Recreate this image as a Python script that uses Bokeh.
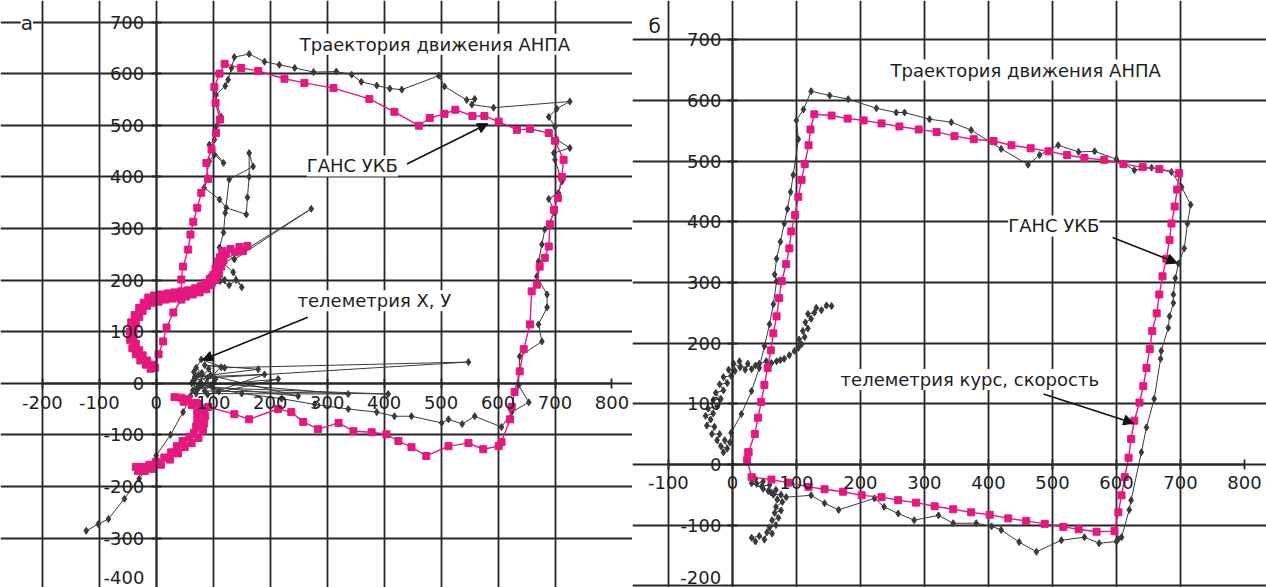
from bokeh.plotting import figure
from bokeh.layouts import row
from bokeh.models import FixedTicker, Label, Arrow, NormalHead
from bokeh.embed import file_html
from bokeh.resources import INLINE

# ---------------- data ----------------
a_xticks = [-200, -100, 0, 100, 200, 300, 400, 500, 600, 700, 800]
a_yticks = [-300, -200, -100, 0, 100, 200, 300, 400, 500, 600, 700]
a_bottom_tick = -400          # only its upper part shows at the lower edge
a_xgrid = [-200, -100, 0, 100, 200, 300, 400, 500, 600, 700]
a_ygrid = [-400, -300, -200, -100, 0, 100, 200, 300, 400, 500, 600, 700]

# Panel a, "ГАНС УКБ" trajectory (pink squares)
a_gans = [
    (160, 266), (152, 256), (146, 264), (138, 254), (130, 260), (122, 250), (116, 256),
    (112, 244), (118, 238), (108, 236), (114, 226), (104, 222), (110, 212), (100, 210),
    (104, 200), (94, 202), (96, 190), (86, 194), (88, 182), (78, 188), (76, 176),
    (68, 184), (64, 172), (56, 180), (52, 168), (44, 178), (40, 166), (32, 176),
    (28, 164), (20, 174), (16, 162), (8, 172), (4, 158), (-4, 170), (-8, 156),
    (-14, 166), (-16, 150), (-22, 156), (-24, 140), (-30, 146), (-30, 128), (-38, 132),
    (-36, 116), (-44, 118), (-40, 104), (-46, 100), (-40, 90), (-46, 84), (-36, 76),
    (-42, 68), (-30, 64), (-36, 56), (-24, 54), (-28, 44), (-16, 44), (-18, 36),
    (-8, 36), (-10, 28), (-2, 30),
    (4, 56), (12, 81), (18, 108), (30, 137), (44, 162), (44, 201), (47, 226), (56, 259),
    (60, 288), (65, 313), (72, 340), (79, 369), (91, 396), (88, 427), (97, 453),
    (105, 485), (112, 511), (104, 543), (102, 574), (111, 600), (120, 619), (149, 611),
    (179, 605), (225, 590), (260, 582), (311, 572), (374, 551), (418, 526), (461, 499),
    (480, 514), (506, 522), (525, 530), (555, 518), (576, 518), (601, 507), (633, 491),
    (656, 493), (689, 485), (700, 470), (715, 433), (712, 400), (705, 359), (698, 336),
    (691, 308), (689, 265), (682, 243), (673, 226), (668, 191), (659, 178), (656, 114),
    (645, 66), (638, 23), (629, -17), (624, -46), (621, -70), (606, -114), (601, -122),
    (574, -128), (548, -116), (513, -122), (474, -141), (448, -124), (425, -112),
    (404, -99), (378, -95), (346, -93), (320, -77), (284, -89), (258, -75), (237, -56),
    (214, -50), (163, -70), (137, -60), (91, -46),
    (70, -38), (56, -31), (44, -28), (32, -27), (48, -36), (62, -42), (74, -40),
    (84, -52), (72, -56), (86, -64), (72, -70), (84, -78), (70, -84), (82, -92),
    (66, -96), (74, -106), (58, -104), (62, -116), (46, -112), (50, -124), (36, -122),
    (38, -136), (26, -134), (24, -148), (14, -144), (8, -158), (0, -152), (-6, -166),
    (-12, -158), (-20, -170), (-24, -162), (-32, -170), (-36, -162),
]

# Panel a, "телеметрия Х, У" trajectory (dark diamonds)
a_tel = [
    (120, 200), (105, 215), (92, 205), (100, 190), (112, 198), (128, 190), (140, 200),
    (150, 186), (135, 215), (118, 232), (272, 338), (137, 240), (111, 263), (118, 292),
    (121, 330), (128, 395), (170, 420), (163, 446), (163, 400), (160, 360), (158, 327),
    (123, 340), (111, 356), (84, 379), (93, 430), (102, 443), (118, 427), (93, 462),
    (102, 472), (105, 497), (114, 516), (105, 545), (105, 559), (121, 576), (126, 588),
    (132, 611), (137, 632), (163, 638), (190, 623), (216, 617), (243, 611), (276, 603),
    (316, 604), (343, 598), (360, 584), (387, 577), (410, 571), (431, 569), (496, 596),
    (506, 575), (545, 549), (559, 551), (554, 540), (592, 534), (726, 546), (703, 532),
    (689, 516), (700, 497), (703, 472), (726, 456), (698, 446), (700, 433), (712, 391),
    (706, 369), (689, 357), (700, 331), (682, 298), (677, 269), (671, 236), (668, 207),
    (686, 172), (686, 147), (671, 114), (677, 81), (638, 52), (636, -4), (654, -37),
    (624, -56), (606, -85), (559, -64), (537, -79), (513, -70), (501, -77), (448, -64),
    (418, -64), (387, -56), (337, -50), (278, -41), (220, -30), (150, -20), (100, -10),
    (80, 20), (70, 30), (79, 46), (120, 30), (548, 41), (90, 10), (65, 5), (75, -8),
    (407, -21), (85, -15), (100, 0), (337, -21), (70, -20), (95, 15), (249, -25),
    (80, -5), (214, 8), (90, -22), (190, 17), (68, 12), (179, 27), (85, 35), (114, 31),
    (72, -12), (62, 0), (66, 22), (96, -4), (110, -16), (78, 2), (64, -14), (92, 28),
    (104, 8), (74, 16), (60, -25),
    (47, -56), (25, -100), (0, -140), (-30, -185), (-56, -224), (-84, -263),
    (-102, -273), (-123, -286),
]

b_xticks = [-100, 0, 100, 200, 300, 400, 500, 600, 700, 800]
b_yticks = [-100, 0, 100, 200, 300, 400, 500, 600, 700]
b_bottom_tick = -200          # only its upper part shows at the lower edge
b_xgrid = [-100, 0, 100, 200, 300, 400, 500, 600, 700]
b_ygrid = [-200, -100, 0, 100, 200, 300, 400, 500, 600, 700]

# Panel b, "ГАНС УКБ" (pink squares)
b_gans = [
    (25, 20), (23, 7), (30, -21), (61, -25), (87, -30), (119, -37), (144, -41), (173, -45),
    (202, -51), (233, -54), (259, -59), (287, -63), (316, -69), (345, -74), (373, -79),
    (402, -83), (431, -89), (459, -93), (488, -98), (517, -103), (541, -107), (569, -111),
    (597, -110), (603, -79), (608, -51), (613, -21), (619, 11), (623, 42), (628, 72),
    (636, 102), (642, 129), (647, 159), (652, 190), (656, 220), (663, 249), (667, 280),
    (672, 310), (678, 339), (683, 370), (686, 397), (691, 425), (695, 453), (698, 480),
    (667, 487), (641, 490), (611, 495), (581, 502), (550, 505), (523, 510), (494, 516),
    (466, 521), (436, 526), (408, 533), (377, 536), (347, 541), (319, 548), (291, 552),
    (261, 557), (233, 562), (205, 567), (180, 570), (155, 575), (128, 577), (122, 552),
    (119, 526), (113, 495), (108, 469), (103, 441), (98, 411), (92, 384), (89, 356),
    (84, 330), (77, 302), (73, 274), (69, 244), (64, 216), (60, 188), (55, 159),
    (50, 131), (45, 103), (40, 77), (35, 50), (25, 20),
]

# Panel b, "телеметрия курс, скорость" (dark diamonds)
b_tel = [
    (36, -127), (30, -121), (42, -118), (50, -124), (54, -112), (62, -114), (58, -104),
    (68, -100), (62, -92), (72, -88), (66, -80), (76, -76), (68, -70), (78, -62),
    (70, -58), (76, -50), (64, -50), (68, -42), (56, -44), (58, -34), (46, -36),
    (48, -28), (38, -32), (36, -24), (30, -31), (48, -40), (60, -46),
    (84, -54), (123, -51), (144, -64), (166, -75), (222, -56), (237, -70), (259, -81),
    (284, -92), (322, -84), (345, -97), (381, -97), (405, -102), (420, -108), (448, -128),
    (475, -144), (514, -125), (550, -120), (573, -130), (600, -127), (603, -123),
    (608, -120), (620, -75), (623, -59), (639, 20), (647, 61), (659, 108), (669, 174),
    (670, 187), (681, 225), (683, 244), (689, 266), (689, 280), (692, 307), (697, 331),
    (706, 356), (711, 397), (716, 428), (702, 457), (686, 482), (655, 489), (628, 485),
    (600, 503), (566, 516), (541, 515), (509, 526), (480, 510), (462, 494), (420, 520),
    (373, 551), (342, 564), (308, 569), (269, 580), (256, 580), (225, 587), (181, 602),
    (152, 608), (123, 615), (111, 585), (100, 567), (103, 536), (95, 477), (91, 449),
    (86, 421), (81, 397), (75, 367), (69, 339), (66, 313), (69, 302), (64, 264),
    (58, 231), (50, 195), (42, 159), (30, 121), (14, 83), (-2, 52),
    (-4, 36), (-12, 40), (-8, 26), (-18, 30), (-14, 20), (-24, 40), (-20, 50),
    (-32, 50), (-28, 62), (-40, 64), (-34, 74), (-42, 80), (-30, 84), (-38, 92),
    (-24, 96), (-30, 106), (-18, 108), (-26, 118), (-14, 122), (-20, 132), (-8, 134),
    (-14, 144), (-2, 146), (-6, 156), (4, 154), (2, 166), (12, 160), (11, 170),
    (20, 156), (24, 166), (30, 157),
    (36, 163), (42, 166), (53, 170), (61, 167), (69, 170), (75, 172), (81, 174),
    (89, 180), (97, 187), (103, 192), (108, 198), (104, 206), (113, 210), (110, 220),
    (118, 224), (114, 234), (123, 240), (118, 248), (128, 250), (131, 258), (139, 254),
    (147, 262), (155, 261),
]

PINK = "#E5187F"
DARK = "#3a3a3a"
GRID = "#262626"
TEXT = "#1e1e1e"
FONT = "DejaVu Sans"


def unzip(pairs):
    return [p[0] for p in pairs], [p[1] for p in pairs]


def make_panel(width, height, xr, yr, xticks, yticks, xgrid, ygrid, xbounds, ybounds,
               x_standoff, y_standoff):
    p = figure(width=width, height=height, x_range=xr, y_range=yr, title=None,
               output_backend="svg", toolbar_location=None,
               min_border_left=0, min_border_right=0,
               min_border_top=0, min_border_bottom=0)
    p.outline_line_color = None
    p.background_fill_color = "white"
    p.border_fill_color = "white"
    p.xgrid.ticker = FixedTicker(ticks=xgrid)
    p.ygrid.ticker = FixedTicker(ticks=ygrid)
    p.xgrid.bounds = ybounds
    p.ygrid.bounds = xbounds
    for g in (p.xgrid, p.ygrid):
        g.grid_line_color = GRID
        g.grid_line_width = 1.8
    p.xaxis.fixed_location = 0
    p.yaxis.fixed_location = 0
    p.xaxis.ticker = FixedTicker(ticks=xticks)
    p.yaxis.ticker = FixedTicker(ticks=yticks)
    p.xaxis.bounds = xbounds
    p.yaxis.bounds = ybounds
    p.xaxis.major_label_overrides = {t: str(t) for t in xticks}
    p.yaxis.major_label_overrides = {t: str(t) for t in yticks}
    p.xaxis.major_label_standoff = x_standoff
    p.yaxis.major_label_standoff = y_standoff
    for ax in (p.xaxis, p.yaxis):
        ax.axis_line_color = GRID
        ax.axis_line_width = 1.8
        ax.major_tick_line_color = GRID
        ax.major_tick_line_width = 1.8
        ax.major_tick_in = 5
        ax.major_tick_out = 5
        ax.minor_tick_line_color = None
        ax.major_label_text_font = FONT
        ax.major_label_text_font_size = "18px"
        ax.major_label_text_color = TEXT
        try:
            ax.major_label_background_fill_color = "white"
        except Exception:
            pass
    return p


def add_series(p, pairs, kind):
    xs, ys = unzip(pairs)
    if kind == "gans":
        p.line(xs, ys, line_color=PINK, line_width=1.4)
        p.scatter(xs, ys, marker="square", size=7, fill_color=PINK, line_color=PINK)
    else:
        p.line(xs, ys, line_color=DARK, line_width=1.0)
        p.scatter(xs, ys, marker="diamond", size=7, fill_color=DARK, line_color=DARK)


def add_label(p, x, y, text, size="18px", align="left"):
    p.add_layout(Label(x=x, y=y, text=text, text_font=FONT, text_font_size=size,
                       text_color=TEXT, text_baseline="middle", text_align=align,
                       background_fill_color="white"))


def add_arrow(p, x0, y0, x1, y1):
    p.add_layout(Arrow(end=NormalHead(size=10, fill_color="#111111", line_color="#111111"),
                       x_start=x0, y_start=y0, x_end=x1, y_end=y1,
                       line_color="#111111", line_width=1.6))


# ---------------- panel a ----------------
pa = make_panel(632, 587, (-273.5, 836), (-395.9, 741.7),
                a_xticks, a_yticks, a_xgrid, a_ygrid, (-200, 800), (-400, 700), 8, 7)
add_series(pa, a_tel, "tel")
add_series(pa, a_gans, "gans")
add_arrow(pa, 440, 425, 582, 503)
add_arrow(pa, 266, 128, 81, 45)
add_label(pa, 252, 657, "Траектория движения АНПА")
add_label(pa, 264, 421, "ГАНС УКБ")
add_label(pa, 248, 160, "телеметрия Х, У")
add_label(pa, -238, 699, "а", size="20px")
# lowest tick label, kept just inside the lower edge
add_label(pa, -21, -377, str(a_bottom_tick), align="right")

# ---------------- panel b ----------------
pb = make_panel(634, 587, (-156.1, 834.5), (-202.9, 764.6),
                b_xticks, b_yticks, b_xgrid, b_ygrid, (-100, 800), (-200, 700), 7, 6)
add_series(pb, b_tel, "tel")
add_series(pb, b_gans, "gans")
add_arrow(pb, 594, 374, 695, 332)
add_arrow(pb, 486, 116, 627, 68)
add_label(pb, 247, 650, "Траектория движения АНПА")
add_label(pb, 431, 393, "ГАНС УКБ")
add_label(pb, 169, 140, "телеметрия курс, скорость")
add_label(pb, -131, 723, "б", size="20px")
add_label(pb, -17.5, -187, str(b_bottom_tick), align="right")

layout = row(pa, pb)
open("out.html", "w").write(file_html(layout, INLINE))
